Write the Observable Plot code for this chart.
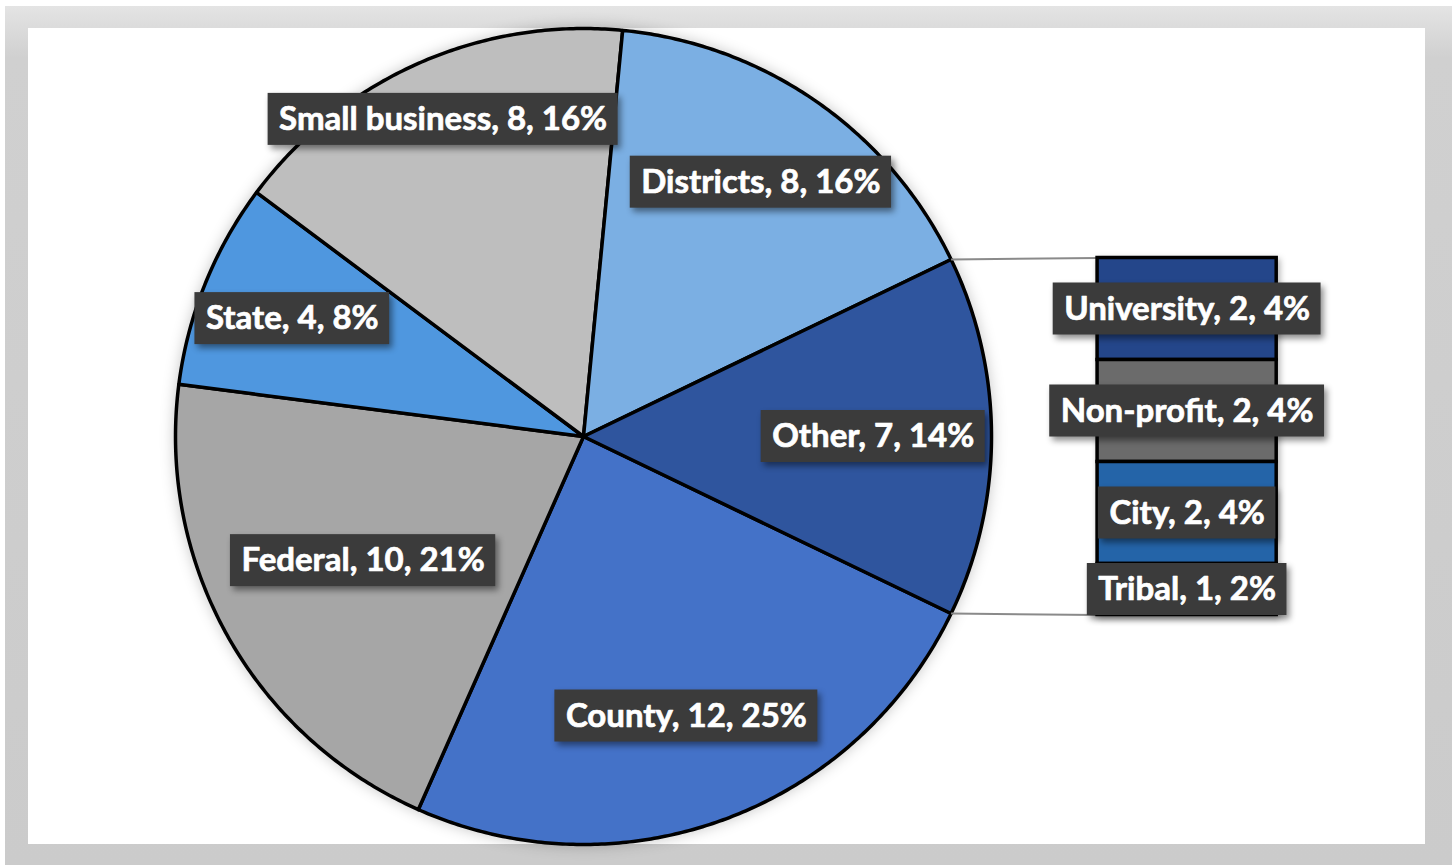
<!DOCTYPE html>
<html><head><meta charset="utf-8">
<script src="https://cdn.jsdelivr.net/npm/d3@7"></script>
<script src="https://cdn.jsdelivr.net/npm/@observablehq/plot@0.6"></script>
<style>
html,body{margin:0;padding:0;overflow:hidden;background:#fff;width:1452px;height:865px}
#frame{position:absolute;left:5px;top:6px;width:1447px;height:859px;background:linear-gradient(#e4e4e4,#d0d0d0 6%,#cbcbcb)}
#panel{position:absolute;left:28px;top:28px;width:1397px;height:816px;background:#fff}
#chart{position:absolute;left:0;top:0}
</style></head><body>
<div id="frame"></div><div id="panel"></div><div id="chart"></div>
<script>
// ---- data ----
const primaryCategories = ["County", "Federal", "State", "Small business", "Districts"];
const primaryValues = [12, 10, 4, 8, 8];
const primaryPercents = ["25%", "21%", "8%", "16%", "16%"];
const otherCategory = "Other";
const otherPercent = "14%";
const secondaryCategories = ["University", "Non-profit", "City", "Tribal"];
const secondaryValues = [2, 2, 2, 1];
const secondaryPercents = ["4%", "4%", "4%", "2%"];

// ---- styles ----
const primaryColors = ["#4472c8", "#a6a6a6", "#4f97df", "#bebebe", "#7bafe3"];
const otherColor = "#2f559e";
const secondaryColors = ["#24468a", "#6b6b6b", "#2464a8", "#1f5a9c"];

// ---- layout ----
const W = 1452, H = 865;
const cx = 583, cy = 436, R = 408;          // pie centre and radius (px)
const barLeft = 1.26, barWidth = 0.439, barHeight = 0.875; // in radius units
// label distance from centre (fraction of radius), per pie slice in order County..Districts, Other
const labelRadius = [0.73, 0.62, 0.77, 0.85, 0.76, 0.71];
const fontSize = 33, fontFamily = "Lato, 'Open Sans', sans-serif";
const padX = 11, boxH = 52;

const ctx = document.createElement("canvas").getContext("2d");
ctx.font = `bold ${fontSize}px Lato`;
const tw = s => ctx.measureText(s).width;

const otherValue = d3.sum(secondaryValues);
const total = d3.sum(primaryValues) + otherValue;
const pieCats = [...primaryCategories, otherCategory];
const pieVals = [...primaryValues, otherValue];
const piePcts = [...primaryPercents, otherPercent];
const pieCols = [...primaryColors, otherColor];

const rad = d => d * Math.PI / 180;
let a = 90 + otherValue / total * 180;
const slices = pieCats.map((c, i) => {
  const a0 = a, a1 = a + pieVals[i] / total * 360; a = a1;
  return {c, v: pieVals[i], pct: piePcts[i], color: pieCols[i], a0, a1, mid: (a0 + a1) / 2, lr: labelRadius[i]};
});
const piePoints = [];
for (const s of slices) {
  piePoints.push({key: s.c, x: 0, y: 0, color: s.color});
  const n = Math.ceil((s.a1 - s.a0) / 0.5);
  for (let k = 0; k <= n; k++) {
    const t = rad(s.a0 + (s.a1 - s.a0) * k / n);
    piePoints.push({key: s.c, x: Math.sin(t), y: Math.cos(t), color: s.color});
  }
}
const other = slices[slices.length - 1];
const unit = barHeight / otherValue;
let cum = 0;
const barSegs = secondaryCategories.map((c, i) => {
  const top = barHeight / 2 - cum * unit; cum += secondaryValues[i];
  const bottom = barHeight / 2 - cum * unit;
  return {c, v: secondaryValues[i], pct: secondaryPercents[i], color: secondaryColors[i],
    x1: barLeft, x2: barLeft + barWidth, y1: bottom, y2: top};
});
const connectors = [
  {x1: Math.sin(rad(other.a0)), y1: Math.cos(rad(other.a0)), x2: barLeft, y2: barHeight / 2},
  {x1: Math.sin(rad(other.a1)), y1: Math.cos(rad(other.a1)), x2: barLeft, y2: -barHeight / 2}
];
const labels = [
  ...slices.map(s => ({text: `${s.c}, ${s.v}, ${s.pct}`,
    x: s.lr * Math.sin(rad(s.mid)), y: s.lr * Math.cos(rad(s.mid))})),
  ...barSegs.map(b => ({text: `${b.c}, ${b.v}, ${b.pct}`, x: (b.x1 + b.x2) / 2, y: (b.y1 + b.y2) / 2}))
].map(l => ({...l, hw: (tw(l.text) / 2 + padX) / R, hh: boxH / 2 / R}));

const plot = Plot.plot({
  width: W, height: H, margin: 0,
  style: {background: "transparent", overflow: "visible"},
  x: {domain: [-cx / R, (W - cx) / R], range: [0, W], axis: null},
  y: {domain: [cy / R, -(H - cy) / R], range: [0, H], axis: null},
  color: {type: "identity"},
  marks: [
    Plot.line(piePoints, {x: "x", y: "y", z: "key", fill: "color", stroke: "black", strokeWidth: 3.5,
      strokeLinejoin: "round", curve: "linear-closed"}),
    Plot.link(connectors, {x1: "x1", y1: "y1", x2: "x2", y2: "y2", stroke: "#8a8a8a", strokeWidth: 2}),
    Plot.rect(barSegs, {x1: "x1", x2: "x2", y1: "y1", y2: "y2", fill: "color", stroke: "black", strokeWidth: 3.5}),
    Plot.rect(labels, {x1: d => d.x - d.hw, x2: d => d.x + d.hw, y1: d => d.y - d.hh, y2: d => d.y + d.hh,
      fill: "#3b3b3b"}),
    Plot.text(labels, {x: "x", y: "y", text: "text", fill: "white", stroke: "white", strokeWidth: 0.7,
      fontSize, fontWeight: "bold", fontFamily})
  ]
});
document.getElementById("chart").append(plot);
const lineG = plot.querySelector('g[aria-label="line"]');
if (lineG) lineG.style.filter = "drop-shadow(0 0 7px rgba(0,0,0,0.22))";
const rectGs = plot.querySelectorAll('g[aria-label="rect"]');
if (rectGs[0]) rectGs[0].style.filter = "drop-shadow(2px 3px 3px rgba(0,0,0,0.3))";
if (rectGs[1]) rectGs[1].style.filter = "drop-shadow(3px 4px 3px rgba(0,0,0,0.45))";
</script></body></html>
